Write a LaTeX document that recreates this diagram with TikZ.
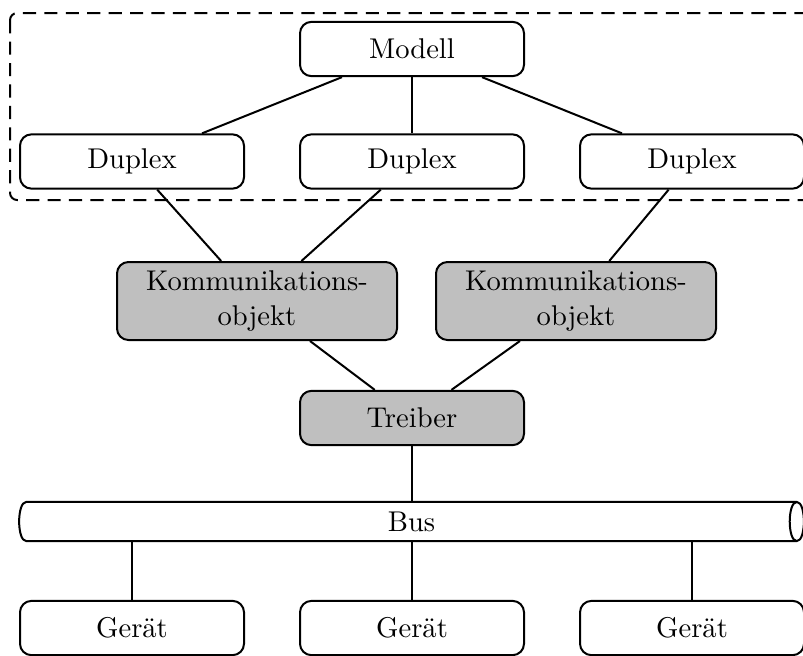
\documentclass[tikz,border=0pt]{standalone}
\begin{document}
\begin{tikzpicture}[x=0.35pt,y=-0.35pt,line width=0.7pt,
  box/.style={draw,rounded corners=4pt,minimum width=78.4pt,minimum height=19pt,inner sep=2pt},
  shaded/.style={box,fill=black!25},
  kobox/.style={shaded,minimum width=98pt,minimum height=27.3pt,align=center,inner sep=1pt},
  busbody/.style={minimum width=269pt,minimum height=13pt,inner sep=0pt},
  group/.style={draw,dash pattern=on 4.6pt off 2.9pt,rounded corners=2.5pt}]
\useasboundingbox (0,0) rectangle (803,655);

% model layer
\node[box] (modell) at (412,49) {Modell};
\node[box] (d1) at (132,161.5) {Duplex};
\node[box] (d2) at (412,161.5) {Duplex};
\node[box] (d3) at (692,161.5) {Duplex};
\draw[group] (10,13) rectangle (830,200);

% communication objects and driver
\node[kobox] (k1) at (257,301) {Kommunikations-\\objekt};
\node[kobox] (k2) at (576,301) {Kommunikations-\\objekt};
\node[shaded] (treiber) at (412,418) {Treiber};

% bus drawn as a horizontal cylinder (half ellipse left, full ellipse right)
\node[busbody] (bus) at (411.5,521.5) {Bus};
\draw (bus.north east) -- (bus.north west)
  .. controls +(-3.3pt,0) and +(-3.3pt,0) .. (bus.south west)
  -- (bus.south east)
  .. controls +(3.3pt,0) and +(3.3pt,0) .. (bus.north east)
  .. controls +(-3.3pt,0) and +(-3.3pt,0) .. (bus.south east);

% devices
\node[box] (g1) at (132,628) {Gerät};
\node[box] (g2) at (412,628) {Gerät};
\node[box] (g3) at (692,628) {Gerät};

% connectors
\draw (modell) -- (d1);
\draw (modell) -- (d2);
\draw (modell) -- (d3);
\draw (d1) -- (k1);
\draw (d2) -- (k1);
\draw (d3) -- (k2);
\draw (k1) -- (treiber);
\draw (k2) -- (treiber);
\draw (treiber) -- (treiber |- bus.north);
\draw (g1.north) -- (g1 |- bus.south);
\draw (g2.north) -- (g2 |- bus.south);
\draw (g3.north) -- (g3 |- bus.south);
\end{tikzpicture}
\end{document}
